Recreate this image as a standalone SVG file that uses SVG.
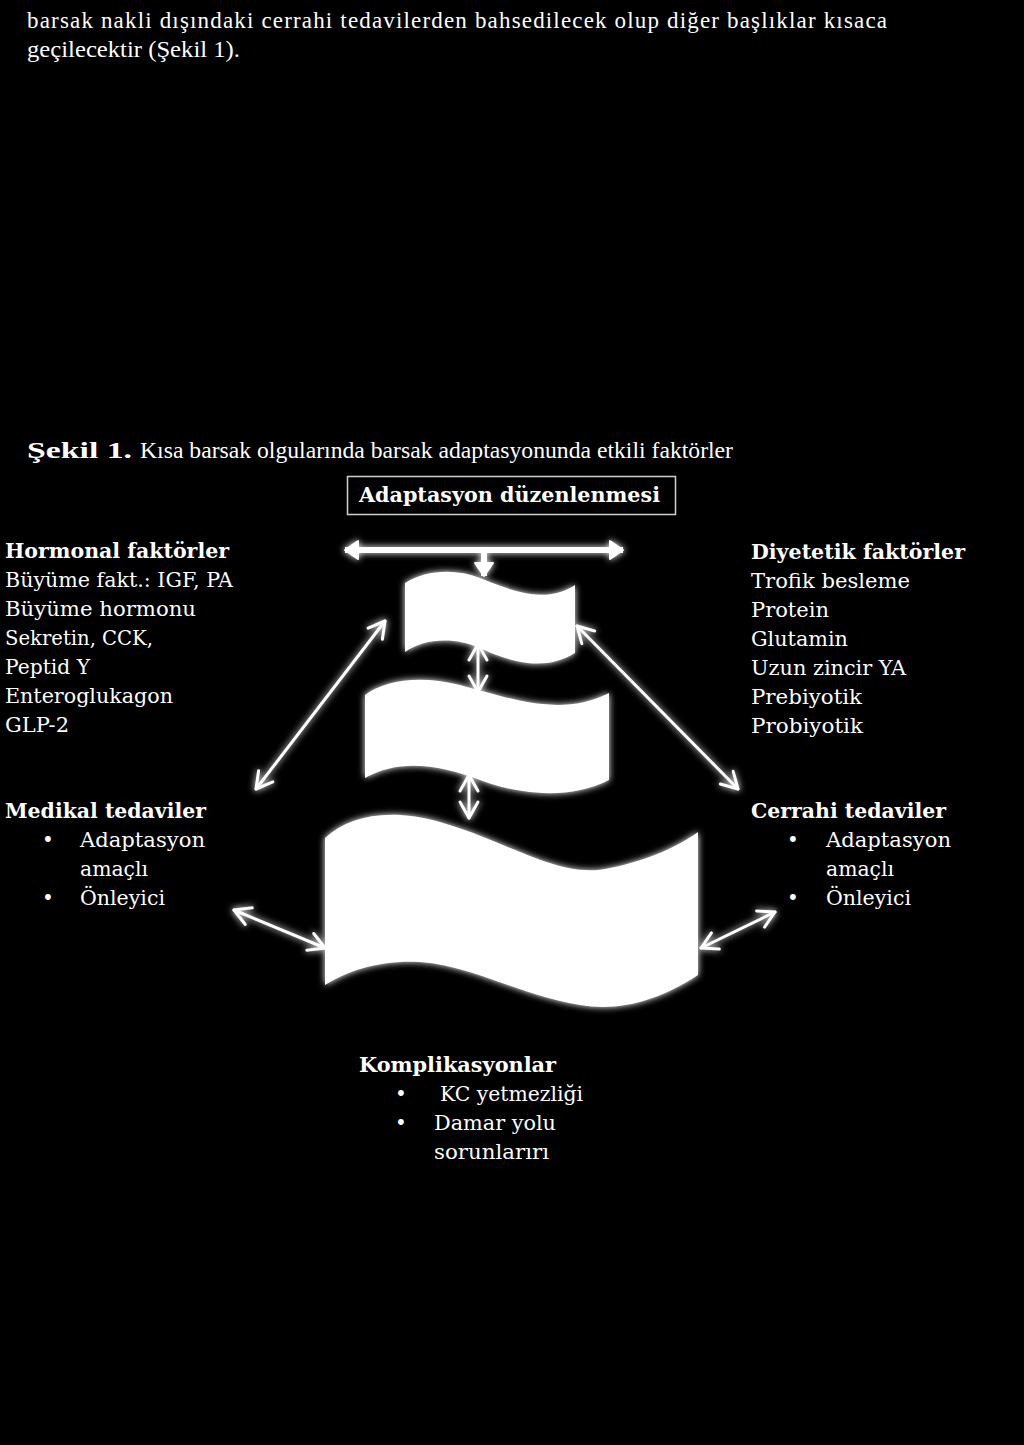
<svg xmlns="http://www.w3.org/2000/svg" width="1024" height="1445" viewBox="0 0 1024 1445">
<style>
  text { fill: #ffffff; font-family: "Liberation Serif", "Times New Roman", serif; }
  .t { font-size: 23px; }
  .b { font-weight: bold; }
  .lbl { font-size: 20px; font-family: "DejaVu Serif", "Liberation Serif", serif; }
  .shape { fill: #ffffff; }
  .thin { stroke: #ffffff; stroke-width: 3; fill: none; stroke-linecap: round; }
  .thick { stroke: #ffffff; stroke-width: 6; fill: none; }
</style>
<defs>
  <filter id="glow" x="-30%" y="-30%" width="160%" height="160%">
    <feGaussianBlur in="SourceGraphic" stdDeviation="3.5" result="bl"/>
    <feMerge><feMergeNode in="bl"/><feMergeNode in="SourceGraphic"/></feMerge>
  </filter>
  <marker id="chev" markerUnits="userSpaceOnUse" markerWidth="30" markerHeight="30" refX="0" refY="0" orient="auto-start-reverse" overflow="visible">
    <path d="M-16,-9 L0,0 L-16,9" fill="none" stroke="#ffffff" stroke-width="3" stroke-linecap="round" stroke-linejoin="round"/>
  </marker>
  <marker id="tri" markerUnits="userSpaceOnUse" markerWidth="30" markerHeight="30" refX="0" refY="0" orient="auto-start-reverse" overflow="visible">
    <path d="M-13,-9 L0,0 L-13,9 Z" fill="#ffffff" stroke="#ffffff" stroke-width="2" stroke-linejoin="round"/>
  </marker>
</defs>
<rect width="1024" height="1445" fill="#000000"/>

<g id="body-text">
  <text class="t" x="27" y="28" textLength="860" lengthAdjust="spacing">barsak nakli dışındaki cerrahi tedavilerden bahsedilecek olup diğer başlıklar kısaca</text>
  <text class="t" x="27" y="57" textLength="213" lengthAdjust="spacingAndGlyphs">geçilecektir (Şekil 1).</text>
</g>

<g id="caption">
  <text class="t b" x="27" y="458" textLength="105" lengthAdjust="spacingAndGlyphs">Şekil 1.</text>
  <text class="t" x="140" y="458" textLength="593" lengthAdjust="spacingAndGlyphs">Kısa barsak olgularında barsak adaptasyonunda etkili faktörler</text>
</g>

<g id="node-adaptasyon">
  <rect x="347.5" y="476.5" width="328" height="38" fill="none" stroke="#d0d0d0" stroke-width="1.5"/>
  <text class="lbl b" x="359" y="502" textLength="301" lengthAdjust="spacingAndGlyphs">Adaptasyon düzenlenmesi</text>
</g>

<g id="node-shapes" filter="url(#glow)">
  <path id="shape-top" class="shape" d="M405,583 C425,570 455,568 480,578 C510,590 545,605 575,585 L575,653 C545,672 510,662 480,648 C455,637 425,638 405,652 Z"/>
  <path id="shape-mid" class="shape" d="M365,695 C385,680 420,675 460,685 C510,698 560,718 609,693 L609,780 C570,800 520,795 480,780 C440,765 400,758 365,778 Z"/>
  <path id="shape-bottom" class="shape" d="M325,838 C350,815 390,808 440,822 C510,842 560,880 610,868 C650,860 680,845 698,832 L698,975 C660,1000 620,1012 580,1005 C520,995 470,965 420,962 C380,960 350,970 325,985 Z"/>
</g>

<g id="connectors" filter="url(#glow)">
  <line class="thick" x1="345" y1="550" x2="623" y2="550" marker-start="url(#tri)" marker-end="url(#tri)"/>
  <line class="thick" x1="484" y1="550" x2="484" y2="576" marker-end="url(#tri)"/>
  <line class="thin" x1="385" y1="621" x2="256" y2="789" marker-start="url(#chev)" marker-end="url(#chev)"/>
  <line class="thin" x1="577" y1="626" x2="738" y2="789" marker-start="url(#chev)" marker-end="url(#chev)"/>
  <line class="thin" x1="478" y1="644" x2="478" y2="692" marker-start="url(#chev)" marker-end="url(#chev)"/>
  <line class="thin" x1="469" y1="775" x2="469" y2="818" marker-start="url(#chev)" marker-end="url(#chev)"/>
  <line class="thin" x1="234" y1="910" x2="325" y2="948" marker-start="url(#chev)" marker-end="url(#chev)"/>
  <line class="thin" x1="701" y1="948" x2="775" y2="912" marker-start="url(#chev)" marker-end="url(#chev)"/>
</g>

<g id="node-hormonal">
  <text class="lbl b" x="5" y="558" textLength="224" lengthAdjust="spacingAndGlyphs">Hormonal faktörler</text>
  <text class="lbl" x="5" y="587" textLength="228" lengthAdjust="spacingAndGlyphs">Büyüme fakt.: IGF, PA</text>
  <text class="lbl" x="5" y="616" textLength="191" lengthAdjust="spacingAndGlyphs">Büyüme hormonu</text>
  <text class="lbl" x="5" y="645" textLength="148" lengthAdjust="spacingAndGlyphs">Sekretin, CCK,</text>
  <text class="lbl" x="5" y="674" textLength="85" lengthAdjust="spacingAndGlyphs">Peptid Y</text>
  <text class="lbl" x="5" y="703" textLength="168" lengthAdjust="spacingAndGlyphs">Enteroglukagon</text>
  <text class="lbl" x="5" y="732" textLength="64" lengthAdjust="spacingAndGlyphs">GLP-2</text>
</g>

<g id="node-diyetetik">
  <text class="lbl b" x="751" y="559" textLength="214" lengthAdjust="spacingAndGlyphs">Diyetetik faktörler</text>
  <text class="lbl" x="751" y="588" textLength="159" lengthAdjust="spacingAndGlyphs">Trofik besleme</text>
  <text class="lbl" x="751" y="617" textLength="78" lengthAdjust="spacingAndGlyphs">Protein</text>
  <text class="lbl" x="751" y="646" textLength="97" lengthAdjust="spacingAndGlyphs">Glutamin</text>
  <text class="lbl" x="751" y="675" textLength="155" lengthAdjust="spacingAndGlyphs">Uzun zincir YA</text>
  <text class="lbl" x="751" y="704" textLength="111" lengthAdjust="spacingAndGlyphs">Prebiyotik</text>
  <text class="lbl" x="751" y="733" textLength="112" lengthAdjust="spacingAndGlyphs">Probiyotik</text>
</g>

<g id="node-medikal">
  <text class="lbl b" x="5" y="818" textLength="201" lengthAdjust="spacingAndGlyphs">Medikal tedaviler</text>
  <text class="lbl" x="42" y="847">•</text>
  <text class="lbl" x="80" y="847" textLength="125" lengthAdjust="spacingAndGlyphs">Adaptasyon</text>
  <text class="lbl" x="80" y="876" textLength="68" lengthAdjust="spacingAndGlyphs">amaçlı</text>
  <text class="lbl" x="42" y="905">•</text>
  <text class="lbl" x="80" y="905" textLength="85" lengthAdjust="spacingAndGlyphs">Önleyici</text>
</g>

<g id="node-cerrahi">
  <text class="lbl b" x="751" y="818" textLength="195" lengthAdjust="spacingAndGlyphs">Cerrahi tedaviler</text>
  <text class="lbl" x="787" y="847">•</text>
  <text class="lbl" x="826" y="847" textLength="125" lengthAdjust="spacingAndGlyphs">Adaptasyon</text>
  <text class="lbl" x="826" y="876" textLength="68" lengthAdjust="spacingAndGlyphs">amaçlı</text>
  <text class="lbl" x="787" y="905">•</text>
  <text class="lbl" x="826" y="905" textLength="85" lengthAdjust="spacingAndGlyphs">Önleyici</text>
</g>

<g id="node-komplikasyonlar">
  <text class="lbl b" x="359" y="1072" textLength="197" lengthAdjust="spacingAndGlyphs">Komplikasyonlar</text>
  <text class="lbl" x="395" y="1101">•</text>
  <text class="lbl" x="440" y="1101" textLength="143" lengthAdjust="spacingAndGlyphs">KC yetmezliği</text>
  <text class="lbl" x="395" y="1130">•</text>
  <text class="lbl" x="434" y="1130" textLength="122" lengthAdjust="spacingAndGlyphs">Damar yolu</text>
  <text class="lbl" x="434" y="1159" textLength="115" lengthAdjust="spacingAndGlyphs">sorunlarırı</text>
</g>
</svg>
